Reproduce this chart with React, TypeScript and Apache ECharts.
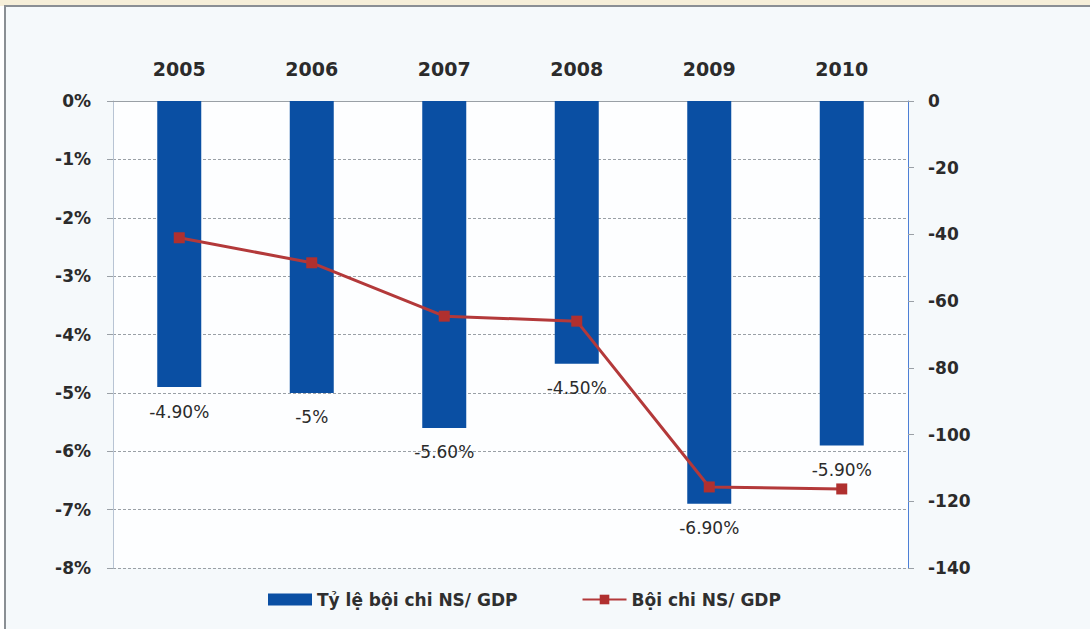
import React, { useEffect, useRef } from "react";
import * as echarts from "echarts";

const years = ["2005", "2006", "2007", "2008", "2009", "2010"];
const ratioValues = [-4.9, -5.0, -5.6, -4.5, -6.9, -5.9];
const ratioLabels = ["-4.90%", "-5%", "-5.60%", "-4.50%", "-6.90%", "-5.90%"];
const deficitValues = [-41, -48.5, -64.5, -66, -115.7, -116.3];
const leftTicks = [0, -1, -2, -3, -4, -5, -6, -7, -8];
const rightTicks = [0, -20, -40, -60, -80, -100, -120, -140];

const FONT = "DejaVu Sans";

export default function App() {
  const ref = useRef<HTMLDivElement>(null);
  useEffect(() => {
    document.body.style.margin = "0";
    const chart = echarts.init(ref.current!, null, { renderer: "svg" });
    chart.setOption({
      animation: false,
      backgroundColor: "#ffffff",
      textStyle: { fontFamily: FONT },
      graphic: [
        { type: "rect", shape: { x: 0, y: 0, width: 1090, height: 6 }, style: { fill: "#f6efd9" }, silent: true, z: -10 },
        { type: "rect", shape: { x: 5, y: 6, width: 1100, height: 640 }, style: { fill: "#f5f9fb", stroke: "#8a8f94", lineWidth: 2 }, silent: true, z: -10 },
        { type: "rect", shape: { x: 113, y: 101, width: 795, height: 467 }, style: { fill: "#fdfeff" }, silent: true, z: -9 },
      ],
      grid: { left: 113, right: 182, top: 101, bottom: 61 },
      legend: {
        bottom: 16,
        left: 263,
        itemGap: 64,
        itemWidth: 44,
        itemHeight: 12,
        textStyle: { fontFamily: FONT, fontSize: 17, fontWeight: "bold", color: "#2f2f2f" },
        data: [
          { name: "Tỷ lệ bội chi NS/ GDP", icon: "rect" },
          { name: "Bội chi NS/ GDP" },
        ],
      },
      xAxis: {
        type: "category",
        position: "top",
        data: years,
        axisLine: { lineStyle: { color: "#9aa0a6", width: 1 } },
        axisTick: { inside: true, length: 6, lineStyle: { color: "#9aa0a6" } },
        axisLabel: { fontFamily: FONT, fontSize: 19, fontWeight: "bold", color: "#2b2b2b", margin: 23 },
      },
      yAxis: [
        {
          type: "value",
          min: -8,
          max: 0,
          interval: 1,
          position: "left",
          axisLine: { show: true, lineStyle: { color: "#b8c4d4" } },
          axisTick: { show: true, length: 6, lineStyle: { color: "#9aa0a6" } },
          axisLabel: {
            fontFamily: FONT, fontSize: 17, fontWeight: "bold", color: "#2b2b2b", margin: 22,
            formatter: (v: number) => `${v}%`,
          },
          splitLine: { show: true, lineStyle: { color: "#9aa0a6", type: [3, 2], width: 1 } },
        },
        {
          type: "value",
          min: -140,
          max: 0,
          interval: 20,
          position: "right",
          axisLine: { show: true, lineStyle: { color: "#4d7fd6" } },
          axisTick: { show: true, length: 6, lineStyle: { color: "#9aa0a6" } },
          axisLabel: { fontFamily: FONT, fontSize: 17, fontWeight: "bold", color: "#2b2b2b", margin: 20 },
          splitLine: { show: false },
        },
      ],
      series: [
        {
          name: "Tỷ lệ bội chi NS/ GDP",
          type: "bar",
          yAxisIndex: 0,
          data: ratioValues,
          barWidth: 44,
          itemStyle: { color: "#0a4fa3" },
          label: {
            show: true,
            position: "bottom",
            distance: 16,
            fontFamily: FONT,
            fontSize: 17,
            color: "#2b2b2b",
            formatter: (p: any) => ratioLabels[p.dataIndex],
          },
          z: 2,
        },
        {
          name: "Bội chi NS/ GDP",
          type: "line",
          yAxisIndex: 1,
          data: deficitValues,
          symbol: "rect",
          symbolSize: 11,
          lineStyle: { color: "#b3393a", width: 3 },
          itemStyle: { color: "#b0302f" },
          z: 5,
        },
      ],
    });
    return () => chart.dispose();
  }, []);
  return <div ref={ref} style={{ width: 1090, height: 629 }} />;
}
